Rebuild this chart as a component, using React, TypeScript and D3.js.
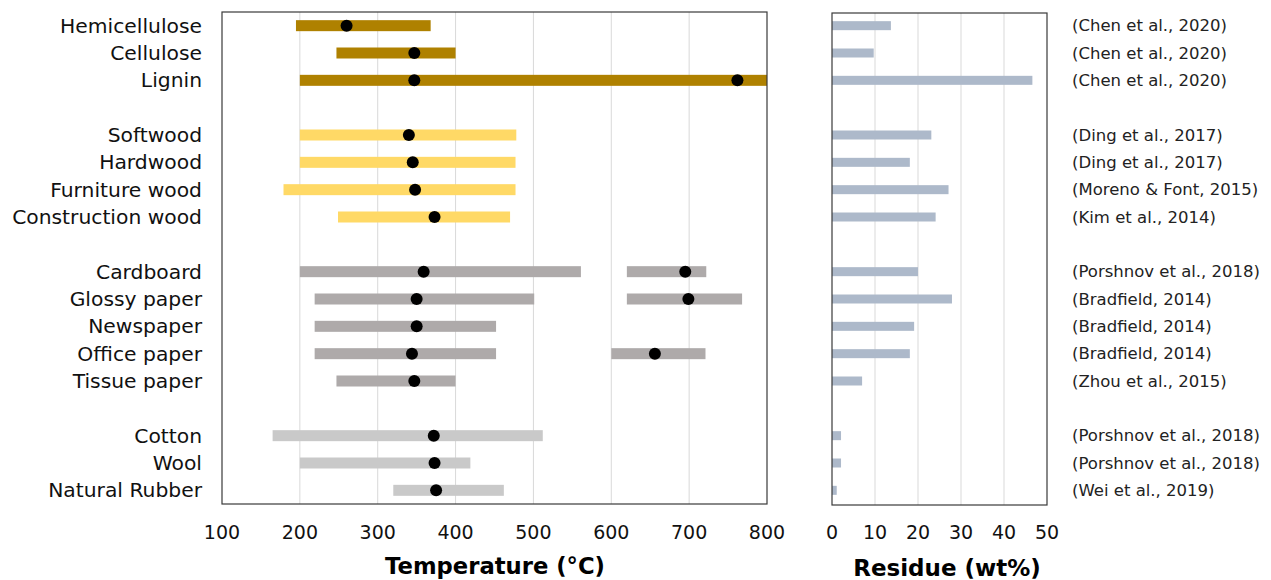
import React from 'react';
import * as d3 from 'd3';

// materials, grouped (a blank row sits between groups)
const materials = [
  'Hemicellulose', 'Cellulose', 'Lignin',
  'Softwood', 'Hardwood', 'Furniture wood', 'Construction wood',
  'Cardboard', 'Glossy paper', 'Newspaper', 'Office paper', 'Tissue paper',
  'Cotton', 'Wool', 'Natural Rubber',
];
const groups = [0, 0, 0, 1, 1, 1, 1, 2, 2, 2, 2, 2, 3, 3, 3];
const groupColors = ['#AF8100', '#FFD966', '#AEAAAA', '#C9C9C9'];

// decomposition temperature ranges (°C), some materials have two stages
const tempRanges: [number, number][][] = [
  [[195, 368]], [[247, 400]], [[200, 800]],
  [[200, 478]], [[200, 477]], [[179, 477]], [[249, 470]],
  [[200, 561], [620, 722]], [[219, 501], [620, 768]], [[219, 452]], [[219, 452], [600, 721]], [[247, 400]],
  [[165, 512]], [[200, 419]], [[320, 462]],
];
// peak temperatures (°C)
const peakTemps: number[][] = [
  [260], [347], [347, 762],
  [340], [345], [348], [373],
  [359, 695], [350, 699], [350], [344, 656], [347],
  [372], [373], [375],
];
// residue (wt%)
const residues = [13.7, 9.7, 46.6, 23.1, 18.1, 27.1, 24.1, 20, 27.9, 19.1, 18.1, 7, 2.1, 2.1, 1.1];
const citations = [
  '(Chen et al., 2020)', '(Chen et al., 2020)', '(Chen et al., 2020)',
  '(Ding et al., 2017)', '(Ding et al., 2017)', '(Moreno & Font, 2015)', '(Kim et al., 2014)',
  '(Porshnov et al., 2018)', '(Bradfield, 2014)', '(Bradfield, 2014)', '(Bradfield, 2014)', '(Zhou et al., 2015)',
  '(Porshnov et al., 2018)', '(Porshnov et al., 2018)', '(Wei et al., 2019)',
];
const tempTicks = [100, 200, 300, 400, 500, 600, 700, 800];
const residueTicks = [0, 10, 20, 30, 40, 50];

const font = '"DejaVu Sans", Verdana, sans-serif';

export default function App() {
  const top = 12;
  const bottom = 504;
  const slots = materials.map((_, i) => i + groups[i]);
  const y = d3.scaleBand<number>().domain(d3.range(18)).range([top, bottom]);
  const cy = (i: number) => (y(slots[i]) as number) + y.bandwidth() / 2;

  const x = d3.scaleLinear().domain([100, 800]).range([222, 767]);
  const xr = d3.scaleLinear().domain([0, 50]).range([832, 1047]);

  const barH = 11;
  const resH = 9;

  return (
    <svg width={1271} height={580} style={{ position: 'absolute', left: 0, top: 0, background: '#fff' }}
      fontFamily={font}>
      {/* temperature panel */}
      {tempTicks.slice(1, -1).map((t) => (
        <line key={t} x1={x(t)} x2={x(t)} y1={top} y2={bottom} stroke="#D9D9D9" strokeWidth={1} />
      ))}
      {materials.map((m, i) => (
        <g key={m}>
          {tempRanges[i].map(([a, b], k) => (
            <rect key={k} x={x(a)} y={cy(i) - barH / 2} width={x(b) - x(a)} height={barH} fill={groupColors[groups[i]]} />
          ))}
          {peakTemps[i].map((p, k) => (
            <circle key={k} cx={x(p)} cy={cy(i)} r={6} fill="#000" />
          ))}
          <text x={202} y={cy(i)} textAnchor="end" dominantBaseline="central" fontSize={20.3} fill="#111">{m}</text>
        </g>
      ))}
      <rect x={x(100)} y={top} width={x(800) - x(100)} height={bottom - top} fill="none" stroke="#3a3a3a" strokeWidth={1.2} />
      {tempTicks.map((t) => (
        <text key={t} x={x(t)} y={532} textAnchor="middle" dominantBaseline="central" fontSize={19} fill="#111">{t}</text>
      ))}
      <text x={495} y={566} textAnchor="middle" dominantBaseline="central" fontSize={22.7} fontWeight="bold" fill="#000">
        Temperature (°C)
      </text>

      {/* residue panel */}
      {residueTicks.slice(1, -1).map((t) => (
        <line key={t} x1={xr(t)} x2={xr(t)} y1={top + 1} y2={bottom + 1} stroke="#D9D9D9" strokeWidth={1} />
      ))}
      {materials.map((m, i) => (
        <g key={m}>
          <rect x={xr(0)} y={cy(i) - resH / 2} width={xr(residues[i]) - xr(0)} height={resH} fill="#ADB9CA" />
          <text x={1072} y={cy(i)} dominantBaseline="central" fontSize={16.5} fill="#222">{citations[i]}</text>
        </g>
      ))}
      <rect x={xr(0)} y={top + 1} width={xr(50) - xr(0)} height={bottom - top} fill="none" stroke="#3a3a3a" strokeWidth={1.2} />
      {residueTicks.map((t) => (
        <text key={t} x={xr(t)} y={532} textAnchor="middle" dominantBaseline="central" fontSize={19} fill="#111">{t}</text>
      ))}
      <text x={947} y={568} textAnchor="middle" dominantBaseline="central" fontSize={23} fontWeight="bold" fill="#000">
        Residue (wt%)
      </text>
    </svg>
  );
}
